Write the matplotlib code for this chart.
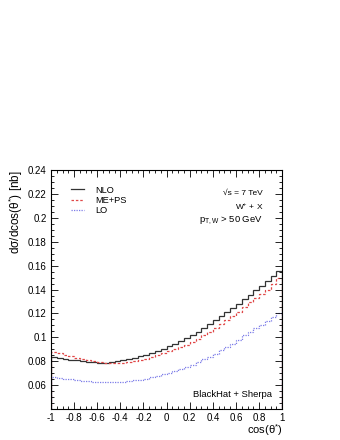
import numpy as np
import matplotlib
matplotlib.use("Agg")
import matplotlib.pyplot as plt
from matplotlib.ticker import MultipleLocator

plt.rcParams['font.family'] = ['Liberation Sans', 'DejaVu Sans']
plt.rcParams['mathtext.fontset'] = 'custom'
plt.rcParams['mathtext.rm'] = 'Liberation Sans'
plt.rcParams['mathtext.it'] = 'Liberation Sans:italic'
plt.rcParams['mathtext.bf'] = 'Liberation Sans:bold'

# 40 bins in cos(theta*) from -1 to 1
edges = np.linspace(-1, 1, 41)

nlo = [0.0836, 0.0829, 0.0822, 0.0815, 0.0808, 0.0802, 0.0796, 0.0791, 0.0789, 0.0790,
       0.0794, 0.0800, 0.0808, 0.0818, 0.0830, 0.0841, 0.0853, 0.0869, 0.0886, 0.0906,
       0.0926, 0.0947, 0.0969, 0.0994, 0.1021, 0.1048, 0.1079, 0.1112, 0.1145, 0.1178,
       0.1212, 0.1247, 0.1283, 0.1320, 0.1357, 0.1394, 0.1431, 0.1470, 0.1512, 0.1556]

meps = [0.0880, 0.0867, 0.0855, 0.0843, 0.0831, 0.0820, 0.0810, 0.0800, 0.0792, 0.0787,
        0.0784, 0.0784, 0.0789, 0.0796, 0.0805, 0.0813, 0.0822, 0.0835, 0.0850, 0.0866,
        0.0883, 0.0900, 0.0919, 0.0940, 0.0963, 0.0988, 0.1017, 0.1049, 0.1081, 0.1113,
        0.1145, 0.1178, 0.1215, 0.1255, 0.1293, 0.1327, 0.1362, 0.1400, 0.1447, 0.1496]

lo = [0.0669, 0.0662, 0.0655, 0.0649, 0.0643, 0.0638, 0.0634, 0.0630, 0.0628, 0.0626,
      0.0625, 0.0626, 0.0629, 0.0634, 0.0640, 0.0647, 0.0655, 0.0665, 0.0677, 0.0690,
      0.0703, 0.0718, 0.0734, 0.0752, 0.0772, 0.0793, 0.0816, 0.0840, 0.0865, 0.0891,
      0.0918, 0.0948, 0.0981, 0.1016, 0.1047, 0.1075, 0.1102, 0.1133, 0.1167, 0.1204]

xt = [-1, -0.8, -0.6, -0.4, -0.2, 0, 0.2, 0.4, 0.6, 0.8, 1]
xt_labels = ['-1', '-0.8', '-0.6', '-0.4', '-0.2', '0', '0.2', '0.4', '0.6', '0.8', '1']
yt = [0.06, 0.08, 0.1, 0.12, 0.14, 0.16, 0.18, 0.2, 0.22, 0.24]
yt_labels = ['0.06', '0.08', '0.1', '0.12', '0.14', '0.16', '0.18', '0.2', '0.22', '0.24']

fig = plt.figure(figsize=(3.4, 4.4), dpi=100)
ax = fig.add_axes([0.150, 0.070, 0.680, 0.544])

ax.stairs(nlo, edges, color='#333333', lw=0.9, label='NLO')
ax.stairs(meps, edges, color='#e04848', lw=0.9, ls=(0, (2, 1.5)), label='ME+PS')
ax.stairs(lo, edges, color='#7d7de8', lw=0.9, ls=(0, (1, 1)), label='LO')

ax.set_xlim(-1, 1)
ax.set_ylim(0.04, 0.24)
ax.set_xticks(xt)
ax.set_xticklabels(xt_labels)
ax.set_yticks(yt)
ax.set_yticklabels(yt_labels)
ax.xaxis.set_minor_locator(MultipleLocator(0.05))
ax.yaxis.set_minor_locator(MultipleLocator(0.005))
ax.tick_params(which='both', direction='in', top=True, right=True, width=0.6, labelsize=7)
ax.tick_params(which='major', length=5)
ax.tick_params(which='minor', length=2.5)
ax.tick_params(axis='x', pad=2.5)
ax.tick_params(axis='y', pad=3)
for s in ax.spines.values():
    s.set_linewidth(0.8)

ax.set_xlabel('cos(θ$^{*}$)', fontsize=8, loc='right', labelpad=0)
ax.set_ylabel('dσ/dcos(θ$^{*}$) [nb]', fontsize=8.5, loc='top', labelpad=2)

ax.legend(loc='upper left', bbox_to_anchor=(0.07, 0.95), frameon=False, fontsize=6.7,
          handlelength=1.4, handletextpad=1.2, labelspacing=0.15, borderaxespad=0)

ax.text(0.918, 0.90, '√s = 7 TeV', transform=ax.transAxes, ha='right', va='center', fontsize=6)
ax.text(0.918, 0.846, 'W$^{+}$ + X', transform=ax.transAxes, ha='right', va='center', fontsize=6)
ax.text(0.918, 0.785, r'p$_{\mathrm{T,W}}$ > 50 GeV', transform=ax.transAxes, ha='right', va='center', fontsize=6.8)
ax.text(0.955, 0.06, 'BlackHat + Sherpa', transform=ax.transAxes, ha='right', va='center', fontsize=6.8)

fig.savefig('out.png', dpi=100)
